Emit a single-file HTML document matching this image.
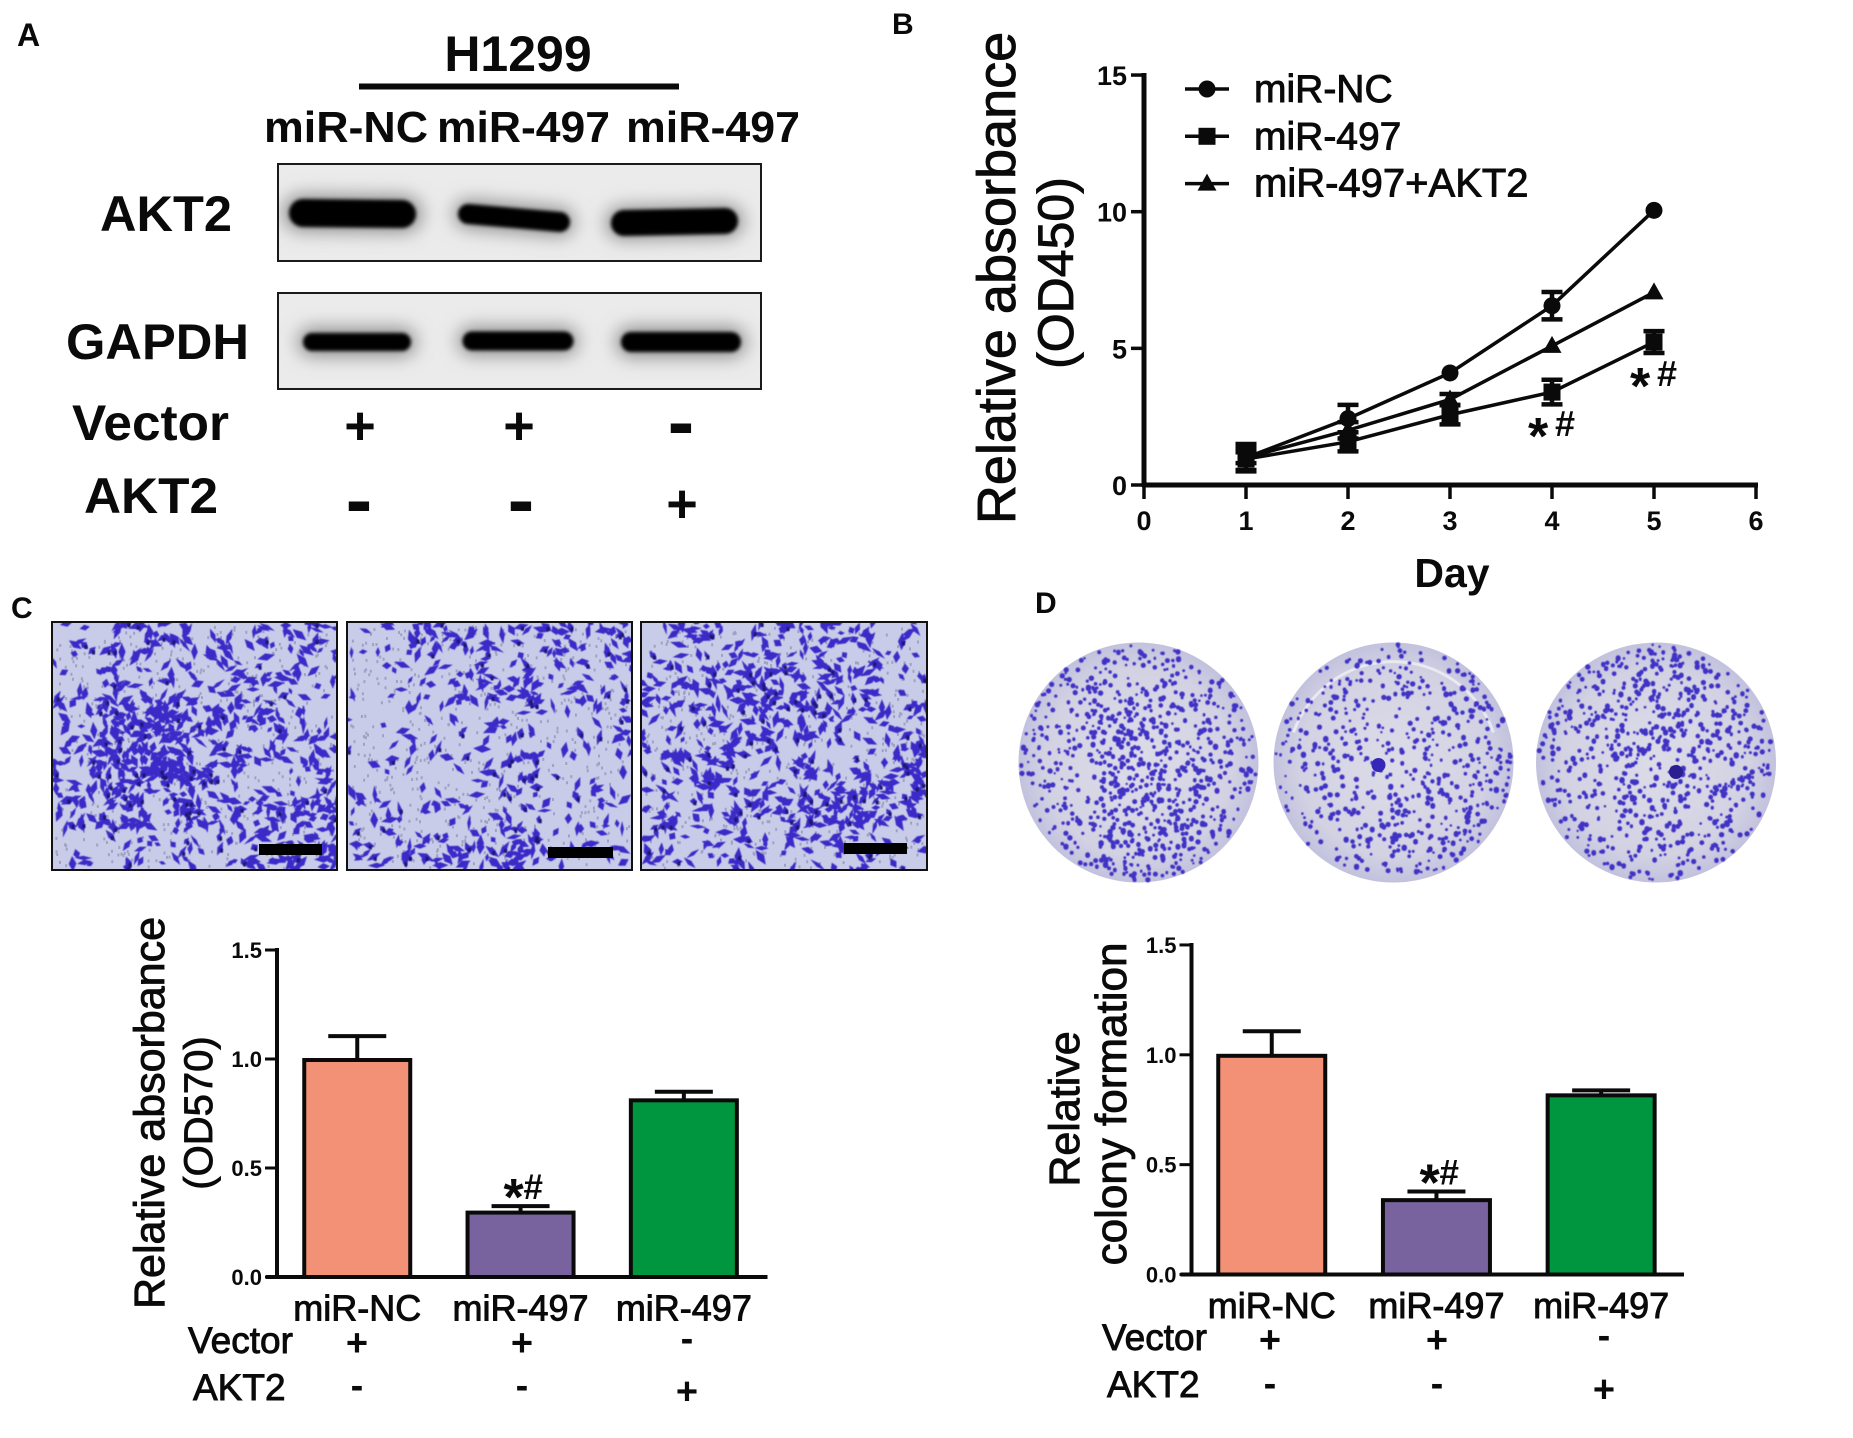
<!DOCTYPE html>
<html lang="en">
<head>
<meta charset="utf-8">
<title>miR-497 and AKT2 in H1299 cells</title>
<style>
html,body{margin:0;padding:0;background:#fff;width:1853px;height:1438px;overflow:hidden}
svg{display:block;font-family:"Liberation Sans",Arial,sans-serif}
text{fill:#0a0a0a}
.b{font-weight:bold}
.h{stroke:#0a0a0a;stroke-width:.9px}
</style>
</head>
<body>
<svg id="fig" xmlns="http://www.w3.org/2000/svg" width="1853" height="1438" viewBox="0 0 1853 1438">
<defs>
<filter id="halo" filterUnits="userSpaceOnUse" x="0" y="0" width="1853" height="1438"><feGaussianBlur stdDeviation="9"/></filter>
<filter id="core" filterUnits="userSpaceOnUse" x="0" y="0" width="1853" height="1438"><feGaussianBlur stdDeviation="1.8"/></filter>
<filter id="soft" filterUnits="userSpaceOnUse" x="0" y="0" width="1853" height="1438"><feGaussianBlur stdDeviation="0.6"/></filter>
<clipPath id="clipBlot1"><rect x="277" y="163" width="485" height="99"/></clipPath>
<clipPath id="clipBlot2"><rect x="277" y="292" width="485" height="98"/></clipPath>
<clipPath id="clipMicro0"><rect x="52" y="622" width="285" height="248"/></clipPath>
<clipPath id="clipMicro1"><rect x="347" y="622" width="285" height="248"/></clipPath>
<clipPath id="clipMicro2"><rect x="641" y="622" width="286" height="248"/></clipPath>
<radialGradient id="dishFill" cx="50%" cy="50%" r="52%"><stop offset="0" stop-color="#dcdce8"/><stop offset=".75" stop-color="#d2d2e3"/><stop offset="1" stop-color="#c0bfdd"/></radialGradient>
</defs>

<!-- PANEL A -->
<g>
<text class="b" x="17" y="46" font-size="32">A</text>
<text class="b" x="518" y="71" font-size="50" text-anchor="middle">H1299</text>
<rect x="359" y="83.5" width="320" height="6" fill="#0a0a0a"/>
<text class="b" x="264" y="142" font-size="44" textLength="164" lengthAdjust="spacingAndGlyphs">miR-NC</text>
<text class="b" x="437" y="142" font-size="44" textLength="173" lengthAdjust="spacingAndGlyphs">miR-497</text>
<text class="b" x="626" y="142" font-size="44" textLength="174" lengthAdjust="spacingAndGlyphs">miR-497</text>

<g>
<rect x="277" y="163" width="485" height="99" fill="#ebebeb"/>
<g clip-path="url(#clipBlot1)">
<g stroke="#8c8c8c" stroke-linecap="round" filter="url(#halo)">
<line x1="301" y1="213" x2="404" y2="214" stroke-width="36"/>
<line x1="468" y1="214" x2="560" y2="222" stroke-width="28"/>
<line x1="622" y1="223" x2="727" y2="221" stroke-width="32"/>
</g>
<g stroke="#060606" stroke-linecap="round" filter="url(#core)">
<line x1="303" y1="213" x2="402" y2="214" stroke-width="28"/>
<line x1="468" y1="214" x2="560" y2="222" stroke-width="20"/>
<line x1="624" y1="223" x2="725" y2="221" stroke-width="26"/>
</g>
</g>
<rect x="278" y="164" width="483" height="97" fill="none" stroke="#1a1a1a" stroke-width="2"/>
</g>

<g>
<rect x="277" y="292" width="485" height="98" fill="#ebebeb"/>
<g clip-path="url(#clipBlot2)">
<g stroke="#8c8c8c" stroke-linecap="round" filter="url(#halo)">
<line x1="312" y1="342" x2="402" y2="342" stroke-width="28"/>
<line x1="472" y1="341" x2="564" y2="341" stroke-width="28"/>
<line x1="631" y1="342" x2="731" y2="342" stroke-width="30"/>
</g>
<g stroke="#060606" stroke-linecap="round" filter="url(#core)">
<line x1="312" y1="342" x2="402" y2="342" stroke-width="18"/>
<line x1="472" y1="341" x2="564" y2="341" stroke-width="19"/>
<line x1="631" y1="342" x2="731" y2="342" stroke-width="20"/>
</g>
</g>
<rect x="278" y="293" width="483" height="96" fill="none" stroke="#1a1a1a" stroke-width="2"/>
</g>

<text class="b" x="100" y="231" font-size="50" textLength="132" lengthAdjust="spacingAndGlyphs">AKT2</text>
<text class="b" x="66" y="359" font-size="50" textLength="183" lengthAdjust="spacingAndGlyphs">GAPDH</text>
<text class="b" x="72" y="440" font-size="50" textLength="157" lengthAdjust="spacingAndGlyphs">Vector</text>
<text class="b" x="84" y="513" font-size="50" textLength="134" lengthAdjust="spacingAndGlyphs">AKT2</text>
<g class="b" text-anchor="middle">
<text x="360" y="444" font-size="54">+</text>
<text x="519" y="444" font-size="54">+</text>
<text x="681" y="449" font-size="80">-</text>
<text x="359" y="527" font-size="80">-</text>
<text x="521" y="527" font-size="80">-</text>
<text x="682" y="522" font-size="54">+</text>
</g>
</g>

<!-- PANEL LABELS -->
<text class="b" x="892" y="34" font-size="30">B</text>
<text class="b" x="11" y="618" font-size="30">C</text>
<text class="b" x="1035" y="613" font-size="30">D</text>

<!-- PANEL B static titles -->
<g id="chartB">
<text class="h" transform="translate(1015,278) rotate(-90)" font-size="54" text-anchor="middle">Relative absorbance</text>
<text class="h" transform="translate(1073,273) rotate(-90)" font-size="50" text-anchor="middle">(OD450)</text>
<text class="b" x="1452" y="587" font-size="41" text-anchor="middle">Day</text>
</g>

<!-- PANEL C images -->
<g id="micro"></g>
<g id="chartC">
<text class="h" transform="translate(164,1113) rotate(-90)" font-size="43" text-anchor="middle">Relative absorbance</text>
<text class="h" transform="translate(212,1113) rotate(-90)" font-size="40" text-anchor="middle">(OD570)</text>
<text class="h" x="188" y="1353" font-size="37">Vector</text>
<text class="h" x="193" y="1400" font-size="37">AKT2</text>
</g>

<!-- PANEL D images -->
<g id="dishes"></g>
<g id="chartD">
<text class="h" transform="translate(1079,1109) rotate(-90)" font-size="43" text-anchor="middle">Relative</text>
<text class="h" transform="translate(1126,1104) rotate(-90)" font-size="44" text-anchor="middle">colony formation</text>
<text class="h" x="1102" y="1350" font-size="37">Vector</text>
<text class="h" x="1107" y="1397" font-size="37">AKT2</text>
</g>
</svg>

<script>
/* ---------- chart data ---------- */
const lineDays = [1, 2, 3, 4, 5];
const xTickLabels = [0, 1, 2, 3, 4, 5, 6];
const yTickLabelsB = [0, 5, 10, 15];
const seriesNames = ['miR-NC', 'miR-497', 'miR-497+AKT2'];
const seriesNC = [1.0, 2.43, 4.1, 6.56, 10.05];
const errorNC = [0.5, 0.5, 0, 0.5, 0];
const series497 = [0.95, 1.58, 2.57, 3.4, 5.23];
const error497 = [0.4, 0.35, 0.35, 0.45, 0.4];
const seriesAKT2 = [1.0, 2.0, 3.13, 5.09, 7.05];
const errorAKT2 = [0.2, 0.3, 0.2, 0, 0];
const significantDays = [4, 5];

const barCategories = ['miR-NC', 'miR-497', 'miR-497'];
const vectorSigns = ['+', '+', '-'];
const akt2Signs = ['-', '-', '+'];
const yTickLabelsBar = ['0.0', '0.5', '1.0', '1.5'];
const valuesC = [1.0, 0.30, 0.815];
const errorsC = [0.105, 0.025, 0.035];
const valuesD = [1.0, 0.343, 0.82];
const errorsD = [0.107, 0.035, 0.018];
const barColors = ['#f29175', '#78639e', '#00963f'];

/* ---------- helpers ---------- */
const NS = 'http://www.w3.org/2000/svg';
function make(parent, tag, attrs, txt) {
  const el = document.createElementNS(NS, tag);
  for (const k in attrs) el.setAttribute(k, attrs[k]);
  if (txt !== undefined) el.textContent = txt;
  parent.appendChild(el);
  return el;
}
const INK = '#0a0a0a';

/* ---------- panel B ---------- */
const gB = document.getElementById('chartB');
function xB(d) { return 1144 + d * 102; }
function yB(v) { return 485 - v * 27.33; }

let el;
el = make(gB, 'line', {x1: xB(0), x2: xB(0), y1: yB(15) - 2, y2: yB(0) + 2, stroke: INK, 'stroke-width': 5});


el = make(gB, 'line', {x1: xB(0) - 2, x2: xB(6) + 2, y1: yB(0), y2: yB(0), stroke: INK, 'stroke-width': 5});



xTickLabels.forEach(function (t) {
  const tick = make(gB, 'line', {x1: xB(t), x2: xB(t), y1: yB(0), y2: yB(0) + 14, stroke: INK, 'stroke-width': 3.5});
  
  
  const lab = make(gB, 'text', {x: xB(t), y: 530, 'font-size': 27, 'font-weight': 'bold', 'text-anchor': 'middle'}, t);
  
  
});
yTickLabelsB.forEach(function (t) {
  const tick = make(gB, 'line', {x1: xB(0) - 13, x2: xB(0), y1: yB(t), y2: yB(t), stroke: INK, 'stroke-width': 3.5});
  
  
  const lab = make(gB, 'text', {x: 1127, y: yB(t) + 10, 'font-size': 27, 'font-weight': 'bold', 'text-anchor': 'end'}, t);
  
  
});

function marker(parent, kind, x, y) {
  if (kind === 0) return make(parent, 'circle', {cx: x, cy: y, r: 8.5, fill: INK});
  if (kind === 1) return make(parent, 'rect', {x: x - 8.5, y: y - 8.5, width: 17, height: 17, fill: INK});
  return make(parent, 'path', {d: 'M' + x + ' ' + (y - 10) + 'L' + (x + 9.5) + ' ' + (y + 7) + 'L' + (x - 9.5) + ' ' + (y + 7) + 'Z', fill: INK});
}

function drawSeries(kind, values, errors) {
  const g = make(gB, 'g', {});
  
  
  const pts = values.map(function (v, i) { return xB(lineDays[i]) + ',' + yB(v); }).join(' ');
  const pl = make(g, 'polyline', {points: pts, fill: 'none', stroke: INK, 'stroke-width': 3.5});
  
  
  values.forEach(function (v, i) {
    const x = xB(lineDays[i]);
    if (errors[i] > 0) {
      const top = yB(v + errors[i]);
      const bot = yB(v - errors[i]);
      const eb = make(g, 'path', {d: 'M' + x + ' ' + top + 'V' + bot + 'M' + (x - 10.5) + ' ' + top + 'H' + (x + 10.5) + 'M' + (x - 10.5) + ' ' + bot + 'H' + (x + 10.5), fill: 'none', stroke: INK, 'stroke-width': 4.5});
      
      
    }
    const m = marker(g, kind, x, yB(v));
    
    
  });
}
drawSeries(1, series497, error497);
drawSeries(2, seriesAKT2, errorAKT2);
drawSeries(0, seriesNC, errorNC);

seriesNames.forEach(function (name, i) {
  const ly = 89 + i * 47.3;
  const g = make(gB, 'g', {});
  
  
  const ln = make(g, 'line', {x1: 1185, x2: 1229, y1: ly, y2: ly, stroke: INK, 'stroke-width': 3.5});
  
  
  const mk = marker(g, i, 1207, ly);
  
  
  const tx = make(g, 'text', {x: 1254, y: ly + 13, 'font-size': i === 2 ? 40 : 39, stroke: INK, 'stroke-width': 0.9}, name);
  
  
});

significantDays.forEach(function (d) {
  const i = lineDays.indexOf(d);
  const x = xB(d) - 24;
  const y = yB(series497[i]) + 44;
  const t = make(gB, 'text', {'font-weight': 'bold'});
  
  
  make(t, 'tspan', {x: x, y: y + 18, 'font-size': 52}, '*');
  make(t, 'tspan', {x: x + 27, y: y, 'font-size': 36}, '#');
});

/* ---------- panels C and D ---------- */
function drawBars(g, o) {
  function xBar(i) { return o.x0 + i * o.step; }
  function yBar(v) { return o.y0 - v * o.scale; }

  o.values.forEach(function (v, i) {
    const cx = xBar(i);
    const ey = yBar(v + o.errors[i]);
    const eb = make(g, 'path', {d: 'M' + cx + ' ' + yBar(v) + 'V' + ey + 'M' + (cx - 29) + ' ' + ey + 'H' + (cx + 29), fill: 'none', stroke: INK, 'stroke-width': 4});
    
    
    const bar = make(g, 'rect', {x: cx - o.w / 2 + 2, y: yBar(v) + 1, width: o.w - 4, height: yBar(0) - yBar(v) - 1, fill: barColors[i], stroke: INK, 'stroke-width': 4});
    
    
    const lab = make(g, 'text', {x: cx, y: o.catY, 'font-size': 36, 'text-anchor': 'middle', stroke: INK, 'stroke-width': 0.9}, barCategories[i]);
    
    
    const sx = o.signX0 + i * o.signStep;
    const s1 = make(g, 'text', {x: sx, y: vectorSigns[i] === '+' ? o.row1 + 12.5 : o.row1 + 8, 'font-size': 38, 'text-anchor': 'middle', 'font-weight': 'bold'}, vectorSigns[i]);
    
    
    const s2 = make(g, 'text', {x: sx, y: akt2Signs[i] === '+' ? o.row2 + 15 : o.row2 + 9, 'font-size': 38, 'text-anchor': 'middle', 'font-weight': 'bold'}, akt2Signs[i]);
    
    
  });

  const ya = make(g, 'line', {x1: o.axisX, x2: o.axisX, y1: yBar(1.5) - 2, y2: yBar(0) + 2, stroke: INK, 'stroke-width': 4});
  
  
  const xa = make(g, 'line', {x1: o.axisX - 11, x2: o.axisEnd, y1: yBar(0), y2: yBar(0), stroke: INK, 'stroke-width': 4});
  
  

  yTickLabelsBar.forEach(function (t) {
    const v = parseFloat(t);
    const tick = make(g, 'line', {x1: o.axisX - 12, x2: o.axisX, y1: yBar(v), y2: yBar(v), stroke: INK, 'stroke-width': 3});
    
    
    const lab = make(g, 'text', {x: o.axisX - 15, y: yBar(v) + 8, 'font-size': 22, 'font-weight': 'bold', 'text-anchor': 'end'}, t);
    
    
  });

  const topY = yBar(o.values[1] + o.errors[1]) - 7;
  const ax = xBar(1) - 17;
  const mark = make(g, 'text', {'font-weight': 'bold'});
  
  
  make(mark, 'tspan', {x: ax, y: topY + 16, 'font-size': 52}, '*');
  make(mark, 'tspan', {x: ax + 20, y: topY, 'font-size': 35}, '#');
}

drawBars(document.getElementById('chartC'), {
  values: valuesC, errors: errorsC, x0: 357.25, step: 163.3, w: 110, y0: 1277, scale: 218,
  axisX: 277, axisEnd: 767.5, catY: 1320.5, signX0: 357, signStep: 165, row1: 1343, row2: 1389
});
drawBars(document.getElementById('chartD'), {
  values: valuesD, errors: errorsD, x0: 1271.75, step: 164.7, w: 111, y0: 1274.5, scale: 219.7,
  axisX: 1191.5, axisEnd: 1684, catY: 1318, signX0: 1270, signStep: 167, row1: 1340, row2: 1387
});

/* ---------- photo texture (stained cells; not chart data) ---------- */
let seed = 4711;
function rnd() { seed = (seed * 16807) % 2147483647; return seed / 2147483647; }

const microDensity = [
  [[3,5,5,4,4,5],[3,5,5,4,5,4],[4,8,9,6,5,4],[5,8,9,6,4,5],[6,7,6,5,5,7],[2,3,4,3,6,7]],
  [[3,5,5,3,5,5],[2,3,5,6,4,4],[1,3,2,4,2,4],[2,2,3,5,2,2],[4,3,3,4,3,4],[4,5,5,7,3,3]],
  [[3,5,5,5,5,3],[5,5,7,6,6,3],[4,5,6,6,4,5],[5,7,4,5,4,7],[5,5,5,7,8,6],[4,4,4,4,5,3]]
];
const microFrames = [
  {x: 52, w: 285, bx: 259, by: 844, bw: 63},
  {x: 347, w: 285, bx: 548, by: 847, bw: 65},
  {x: 641, w: 286, bx: 844, by: 843, bw: 63}
];
const gm = document.getElementById('micro');
microFrames.forEach(function (f, p) {
  const y0 = 622, h = 248;
  const g = make(gm, 'g', {});
  
  
  const clipG = make(g, 'g', {'clip-path': 'url(#clipMicro' + p + ')'});
  make(clipG, 'rect', {x: f.x, y: y0, width: f.w, height: h, fill: '#c8cce8'});
  let specks = '', cells = '', dark = '';
  for (let i = 0; i < 550; i++) {
    const sx = f.x + 3 + rnd() * (f.w - 6), sy = y0 + 3 + rnd() * (h - 6);
    specks += 'M' + sx.toFixed(1) + ' ' + sy.toFixed(1) + 'h2v3h-2z';
  }
  make(clipG, 'path', {d: specks, fill: '#8d92b4', opacity: 0.7});
  const grid = microDensity[p];
  const cw = f.w / 6, ch = h / 6;
  grid.forEach(function (row, r) {
    row.forEach(function (den, c) {
      const n = Math.round(den * den * 0.7 + 2);
      for (let k = 0; k < n; k++) {
        const x = f.x + (c + rnd()) * cw, y = y0 + (r + rnd()) * ch;
        const a = rnd() * 6.28, l = 3.5 + rnd() * 6, t = 1.8 + rnd() * 2.2;
        const dx = Math.cos(a) * l, dy = Math.sin(a) * l;
        const nx = Math.cos(a + 1.57) * t, ny = Math.sin(a + 1.57) * t;
        cells += 'M' + (x - dx).toFixed(1) + ' ' + (y - dy).toFixed(1) +
          'L' + (x + nx).toFixed(1) + ' ' + (y + ny).toFixed(1) +
          'L' + (x + dx).toFixed(1) + ' ' + (y + dy).toFixed(1) +
          'L' + (x - nx).toFixed(1) + ' ' + (y - ny).toFixed(1) + 'Z';
        if (rnd() < 0.12) dark += 'M' + x.toFixed(1) + ' ' + y.toFixed(1) + 'h3v4h-3z';
      }
    });
  });
  make(clipG, 'path', {d: cells, fill: '#3a2cc8', filter: 'url(#soft)'});
  make(clipG, 'path', {d: dark, fill: '#1b1470', filter: 'url(#soft)'});
  const fr = make(g, 'rect', {x: f.x, y: y0, width: f.w, height: h, fill: 'none', stroke: '#111', 'stroke-width': 2});
  
  
  const sb = make(g, 'rect', {x: f.bx, y: f.by, width: f.bw, height: 11, fill: '#000'});
  
  
});

const dishDensity = [
  [[2,4,4,4,2,1],[4,5,7,6,4,4],[4,5,8,7,5,4],[4,3,8,9,6,4],[4,4,7,8,5,4],[3,5,7,6,5,3]],
  [[2,3,3,3,3,2],[3,4,2,3,4,3],[3,4,4,4,3,4],[3,3,3,4,4,4],[3,3,4,5,5,3],[3,3,3,4,4,3]],
  [[3,4,5,5,4,3],[5,5,5,6,5,4],[4,4,7,6,5,5],[3,3,5,5,4,5],[3,3,4,4,4,4],[4,3,4,4,4,4]]
];
const dishFrames = [{cx: 1138.5}, {cx: 1393.5}, {cx: 1656}];
const gd = document.getElementById('dishes');
dishFrames.forEach(function (f, p) {
  const cy = 762.5, R = 120;
  const g = make(gd, 'g', {});
  
  
  make(g, 'circle', {cx: f.cx, cy: cy, r: R, fill: 'url(#dishFill)'});
  if (p === 1) {
    make(g, 'path', {d: 'M' + (f.cx - 100) + ' ' + (cy - 30) + 'A106 106 0 0 1 ' + (f.cx + 100) + ' ' + (cy - 30), fill: 'none', stroke: '#ecedf3', 'stroke-width': 3, opacity: 0.85});
  }
  let dots = '';
  const cell = 2 * R / 6;
  dishDensity[p].forEach(function (row, r) {
    row.forEach(function (den, c) {
      const n = Math.round(den * 6);
      for (let k = 0; k < n; k++) {
        const x = f.cx - R + (c + rnd()) * cell, y = cy - R + (r + rnd()) * cell;
        if (Math.hypot(x - f.cx, y - cy) > R - 2) continue;
        const rr = 1.2 + rnd() * 1.5;
        dots += 'M' + (x - rr).toFixed(1) + ' ' + y.toFixed(1) + 'a' + rr.toFixed(1) + ' ' + rr.toFixed(1) + ' 0 1 0 ' + (2 * rr).toFixed(1) + ' 0a' + rr.toFixed(1) + ' ' + rr.toFixed(1) + ' 0 1 0 ' + (-2 * rr).toFixed(1) + ' 0z';
      }
    });
  });
  make(g, 'path', {d: dots, fill: '#3f31c4', filter: 'url(#soft)'});
  if (p > 0) {
    const blob = make(g, 'circle', {cx: p === 1 ? f.cx - 15 : f.cx + 20, cy: p === 1 ? 765 : 772, r: 7, fill: p === 1 ? '#3527b8' : '#2a1e90'});
    
    
  }
});
</script>
</body>
</html>
